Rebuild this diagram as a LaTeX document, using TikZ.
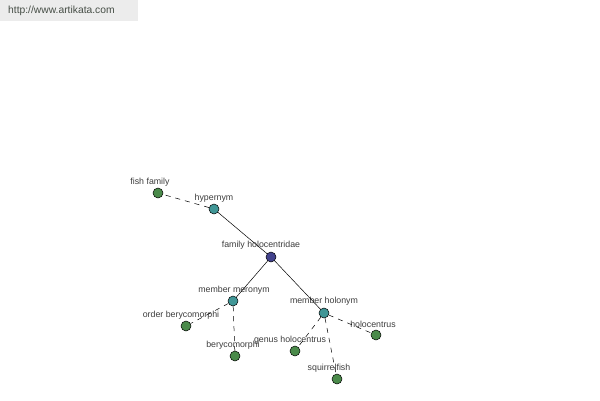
\documentclass[tikz,border=0pt]{standalone}
\usepackage{fontspec}
\setmainfont{Liberation Sans}
\usetikzlibrary{positioning}
\definecolor{leafgreen}{RGB}{74,138,74}
\definecolor{relteal}{RGB}{64,150,150}
\definecolor{rootblue}{RGB}{66,66,140}
\definecolor{labelgray}{RGB}{60,60,60}
\definecolor{bargray}{RGB}{236,236,236}
\definecolor{sitegray}{RGB}{70,78,70}
\begin{document}
\begin{tikzpicture}[x=1pt,y=-1pt]
\tikzstyle{word} = [font=\fontsize{8.8}{9}\selectfont,text=labelgray,inner sep=0pt]
\tikzstyle{dot} = [circle,draw=black,line width=0.5pt,minimum size=10pt,inner sep=0pt]
\tikzstyle{link} = [line width=0.5pt]
\tikzstyle{dlink} = [line width=0.5pt,dash pattern=on 5pt off 5pt]
\useasboundingbox (0,0) rectangle (600,400);

% header
\fill [bargray] (0,0) rectangle (138,21);
\node [word,anchor=west,text=sitegray,font=\fontsize{10.3}{11}\selectfont] (site) at (8,11) {http://www.artikata.com};

\node [dot,fill=rootblue] (root) at (271,257) {};
\node [dot,fill=relteal] (hyper) at (214,209) {};
\node [dot,fill=relteal] (mero) at (233,301) {};
\node [dot,fill=relteal] (holo) at (324,313) {};
\node [dot,fill=leafgreen] (fish) at (158,193) {};
\node [dot,fill=leafgreen] (order) at (186,326) {};
\node [dot,fill=leafgreen] (bery) at (235,356) {};
\node [dot,fill=leafgreen] (genus) at (295,351) {};
\node [dot,fill=leafgreen] (holoc) at (376,335) {};
\node [dot,fill=leafgreen] (squir) at (337,379) {};

\node [word] (lroot) at ([xshift=-10pt,yshift=12pt]root.center) {family holocentridae};
\node [word] (lhyper) at ([yshift=11pt]hyper.center) {hypernym};
\node [word] (lmero) at ([xshift=1pt,yshift=11pt]mero.center) {member meronym};
\node [word] (lholo) at ([yshift=12pt]holo.center) {member holonym};
\node [word] (lfish) at ([xshift=-8pt,yshift=11pt]fish.center) {fish family};
\node [word] (lorder) at ([xshift=-5pt,yshift=11pt]order.center) {order berycomorphi};
\node [word] (lbery) at ([xshift=-2pt,yshift=11pt]bery.center) {berycomorphi};
\node [word] (lgenus) at ([xshift=-5pt,yshift=11pt]genus.center) {genus holocentrus};
\node [word] (lholoc) at ([xshift=-3pt,yshift=11pt]holoc.center) {holocentrus};
\node [word] (lsquir) at ([xshift=-8pt,yshift=11pt]squir.center) {squirrelfish};

\draw [link] (hyper) -- (root);
\draw [link] (root) -- (mero);
\draw [link] (root) -- (holo);
\draw [dlink] (hyper) -- (fish);
\draw [dlink] (mero) -- (order);
\draw [dlink] (mero) -- (bery);
\draw [dlink] (holo) -- (genus);
\draw [dlink] (holo) -- (holoc);
\draw [dlink] (holo) -- (squir);
\end{tikzpicture}
\end{document}
